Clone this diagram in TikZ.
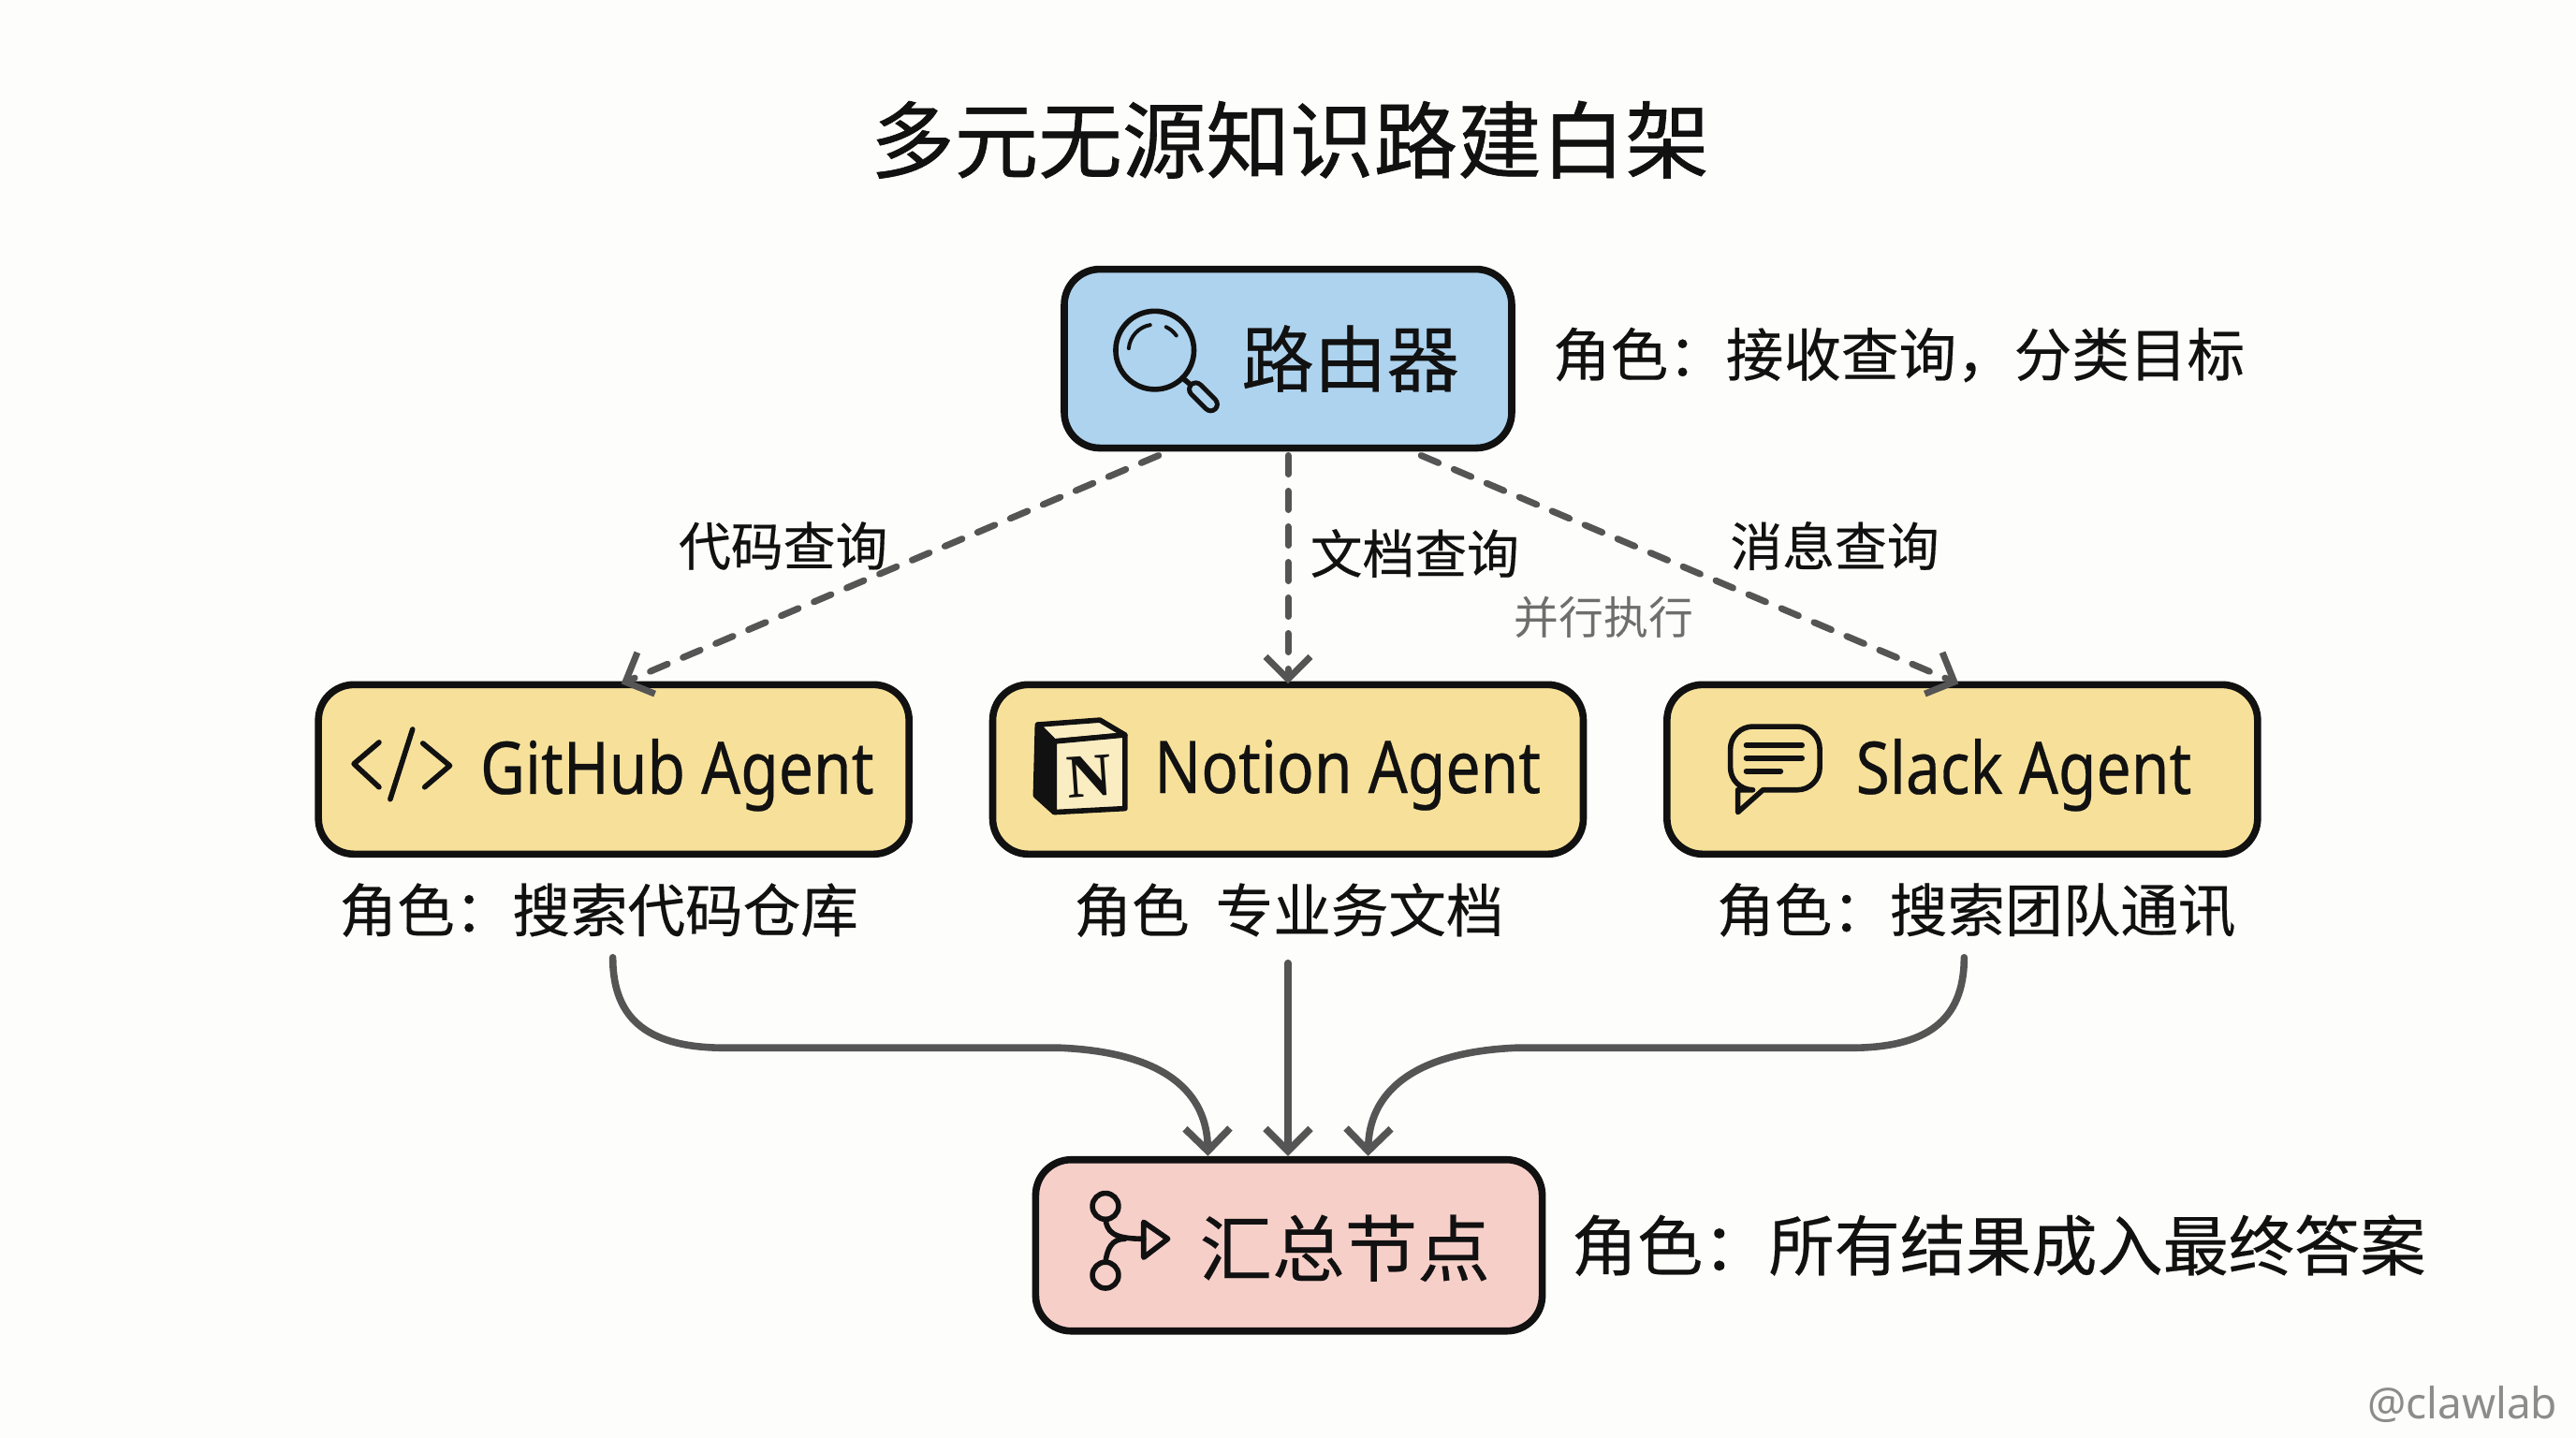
\documentclass[tikz,border=0pt]{standalone}
\usepackage{fontspec}
\usetikzlibrary{arrows.meta,calc}
\newfontfamily\cjk[FakeBold=0.35]{Noto Sans CJK SC}
\newfontfamily\cjktitle[FakeBold=0.7]{Noto Sans CJK SC}
\newfontfamily\cjklight{Noto Sans CJK SC}
\newfontfamily\agentfont[FakeStretch=0.85,FakeBold=0.35]{Noto Sans}
\newfontfamily\nfont{Liberation Serif}
\newfontfamily\markfont{Noto Sans}
\newcommand{\fsz}[1]{\fontsize{#1pt}{#1pt}\selectfont}
\definecolor{paper}{HTML}{FDFDFB}
\definecolor{ink}{HTML}{111111}
\definecolor{flow}{HTML}{555555}
\definecolor{routerfill}{HTML}{AED3EE}
\definecolor{agentfill}{HTML}{F7E19A}
\definecolor{sumfill}{HTML}{F7CFC9}
\tikzset{
  box/.style={draw=ink,line width=3.8pt,rounded corners=19pt,outer sep=0pt,inner sep=0pt},
  routerbox/.style={box,fill=routerfill,minimum width=239pt,minimum height=95.5pt},
  agentbox/.style={box,fill=agentfill,minimum width=315.5pt,minimum height=90.5pt},
  sumbox/.style={box,fill=sumfill,minimum width=270.6pt,minimum height=91.5pt},
  txt/.style={font=\cjk,text=ink,inner sep=0pt},
  titletxt/.style={txt,font=\cjktitle\fsz{44.8}},
  boxtxt/.style={txt,font=\cjk\fsz{38.8}},
  agenttxt/.style={font=\agentfont\fsz{38.8},text=ink,inner sep=0pt},
  roletxt/.style={txt,font=\cjk\fsz{30.8}},
  sumrole/.style={txt,font=\cjk\fsz{35.1}},
  edgetxt/.style={txt,font=\cjk\fsz{27.9}},
  graytxt/.style={txt,font=\cjklight\fsz{23.9},text=flow!85},
  query/.style={draw=flow,line width=3.5pt,line cap=round,dash pattern=on 10pt off 9pt,-{Straight Barb[length=12pt,width=24pt,line width=3.5pt]}},
  merge/.style={draw=flow,line width=3.8pt,line cap=round,-{Straight Barb[length=12pt,width=24pt,line width=3.8pt]}},
  icon/.style={draw=ink,line width=2.8pt,line cap=round,line join=round},
}
\begin{document}
\begin{tikzpicture}[x=0.4975pt,y=-0.4975pt]
\fill[paper] (0,0) rectangle (2766,1543.8);
\useasboundingbox (0,0) rectangle (2766,1543.8);

\node[titletxt] (title) at (1385,150) {多元无源知识路建白架};

\node[routerbox] (router) at (1383,385) {};
\node[agentbox] (github) at (659,826) {};
\node[agentbox] (notion) at (1383,826) {};
\node[agentbox] (slack) at (2107,826) {};
\node[sumbox] (sum) at (1384,1337) {};

\node[boxtxt] (routertxt) at (1450,385) {路由器};
\node[roletxt,anchor=west] (routerrole) at (1667,381) {角色：接收查询，分类目标};
\node[agenttxt] (githubtxt) at (727,832) {GitHub Agent};
\node[agenttxt] (notiontxt) at (1447,832) {Notion Agent};
\node[agenttxt] (slacktxt) at (2173,832) {Slack Agent};
\node[roletxt] (githubrole) at (643,977) {角色：搜索代码仓库};
\node[roletxt] (notionrole) at (1384,977) {角色\hspace{14pt}专业务文档};
\node[roletxt] (slackrole) at (2122,977) {角色：搜索团队通讯};
\node[boxtxt] (sumtxt) at (1444,1340) {汇总节点};
\node[sumrole,anchor=west] (sumrolenode) at (1687,1337) {角色：所有结果成入最终答案};

\node[edgetxt] (l1) at (841,586) {代码查询};
\node[edgetxt] (l2) at (1519,594) {文档查询};
\node[edgetxt] (l3) at (1970,586) {消息查询};
\node[graytxt] (l4) at (1722,663) {并行执行};
\node[font=\markfont\fsz{23},text=black!45,inner sep=0pt] (mark) at (2644,1508) {@clawlab};

% magnifier
\draw[icon] (1240,376) circle (42);
\draw[icon,line width=2pt] (1212,374) arc (-175:-100:28);
\draw[icon,line width=2pt] (1252,351) arc (-65:-35:28);
\draw[icon] (1270,406) -- (1282,416);
\draw[ink,line width=9.5pt,line cap=round] (1284,418) -- (1300,434);
\draw[routerfill,line width=4.5pt,line cap=round] (1284,418) -- (1300,434);
% code glyph
\draw[icon] (407,797) -- (380,820) -- (407,845);
\draw[icon] (443,783) -- (419,858);
\draw[icon] (454,798) -- (483,822) -- (456,845);
% Notion cube
\begin{scope}[shift={(6,1)}]
\filldraw[icon,fill=ink] (1108,777) -- (1126,795) -- (1126,871) -- (1106,853) -- cycle;
\filldraw[icon,fill=agentfill!60!white] (1108,777) -- (1175,772) -- (1202,788) -- (1126,795) -- cycle;
\filldraw[icon,fill=agentfill!60!white] (1126,795) -- (1202,788) -- (1202,867) -- (1126,871) -- cycle;
\node[font=\nfont\bfseries\fsz{33},text=ink,inner sep=0pt,rotate=4] (ncube) at (1164,832) {N};
\end{scope}
% chat bubble
\draw[icon] (1866,872) -- (1893,848) {[rounded corners=12pt] -- (1954,848) -- (1954,780) -- (1858,780) -- (1858,848)} -- (1866,848) -- cycle;
\draw[icon] (1875,800) -- (1935,800);
\draw[icon] (1875,814) -- (1935,814);
\draw[icon] (1875,828) -- (1912,828);
% merge glyph
\draw[icon] (1187,1295) circle (14);
\draw[icon] (1187,1369) circle (14);
\draw[icon] (1187,1309) .. controls (1189,1322) and (1194,1330) .. (1228,1330);
\draw[icon] (1187,1355) .. controls (1189,1340) and (1194,1330) .. (1208,1330);
\draw[icon] (1228,1312) -- (1254,1330) -- (1228,1350) -- cycle;

% connectors
\draw[query] ($(router.south)+(-139,8)$) -- ($(github.north)+(8,-1)$);
\draw[query] ($(router.south)+(0,8)$) -- ($(notion.north)+(0,-1)$);
\draw[query] ($(router.south)+(143,8)$) -- ($(slack.north)+(-4,-1)$);

\draw[merge] ($(github.south)+(-1,111)$) .. controls ($(github.south)+(-1,180)$) and ($(github.south)+(40,208)$) .. ($(github.south)+(120,208)$)
  -- ($(github.south)+(480,208)$) .. controls ($(sum.north)+(-130,-115)$) and ($(sum.north)+(-88,-70)$) .. ($(sum.north)+(-87,-4)$);
\draw[merge] ($(notion.south)+(0,117)$) -- ($(sum.north)+(-1,-4)$);
\draw[merge] ($(slack.south)+(2,111)$) .. controls ($(slack.south)+(2,180)$) and ($(slack.south)+(-40,208)$) .. ($(slack.south)+(-120,208)$)
  -- ($(slack.south)+(-480,208)$) .. controls ($(sum.north)+(130,-115)$) and ($(sum.north)+(86,-70)$) .. ($(sum.north)+(85,-4)$);
\end{tikzpicture}
\end{document}
